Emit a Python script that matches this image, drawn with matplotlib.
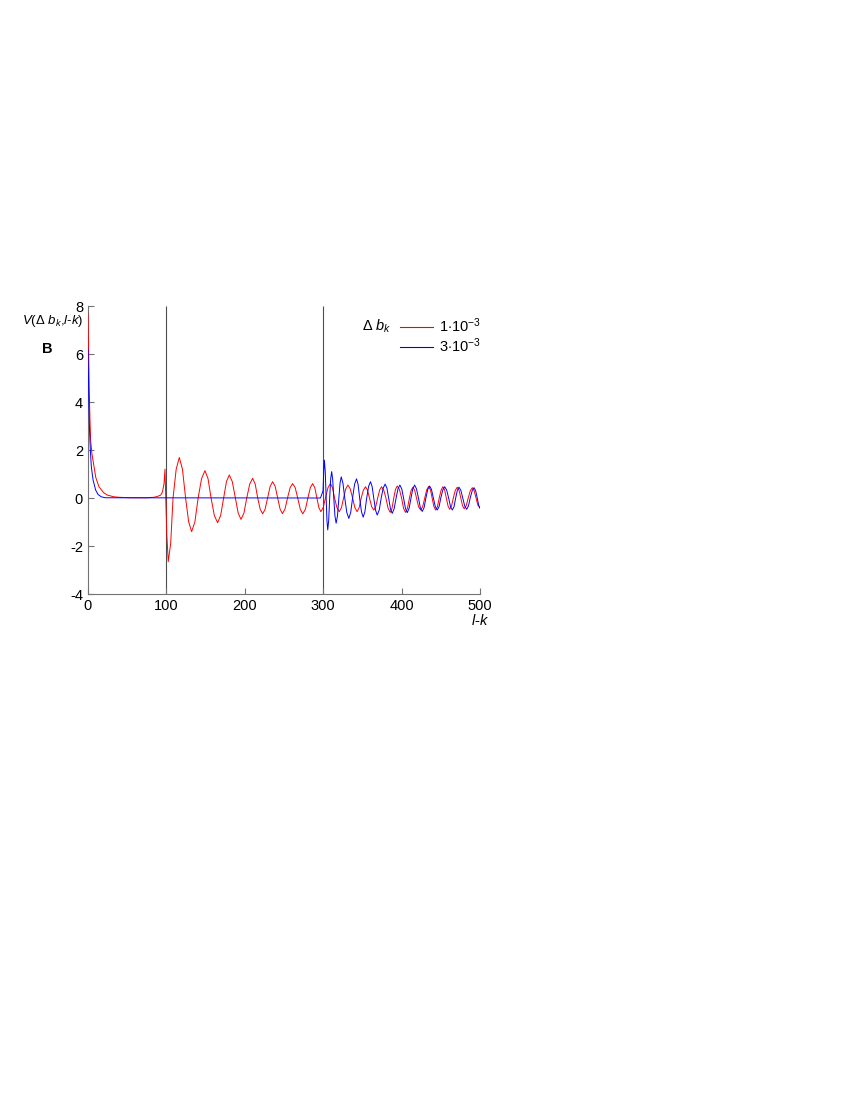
import matplotlib.pyplot as plt

# ------------------------------------------------------------
# Dati: V(Delta b_k, l-k) per due valori di Delta b_k
# (punti: massimi, minimi, zeri e "spalle" delle oscillazioni)
# ------------------------------------------------------------

# Delta b_k = 1e-3 (rosso)
red_x = [0, 0.8, 1.6, 2.5, 3.4, 5, 7.7, 10, 14, 20, 25, 33, 40, 54, 75, 84, 88, 92.7, 95, 97, 98.2,
         100.5, 102.4, 105.5,
         108.5, 112.5, 116.5, 120.5, 124.5, 128.4, 132.2, 136.4, 140.5, 144.9, 149.2, 153.1,
         157, 161.2, 165.3, 169.2, 173, 176.6, 180.2, 184.1, 188, 191.6, 195.2, 198.9,
         202.5, 206.3, 210, 213.3, 216.5, 219.7, 222.8, 225.9, 229, 232.3, 235.5, 238.8,
         242, 245, 248, 251.3, 254.5, 257.8, 261, 264.3, 267.5, 270.8, 274, 277.3,
         280.5, 283.6, 286.6, 289.3, 292, 294.5, 297, 300, 303, 306.1, 309.2, 311.9,
         314.5, 317.5, 320.5, 323.3, 326, 328.8, 331.5, 334.5, 337.5, 340.4, 343.3, 345.9,
         348.5, 351.3, 354, 356.5, 359, 361.8, 364.6, 367, 369.5, 372, 374.4, 377.2,
         380, 382.8, 385.5, 387.8, 390, 392.2, 394.4, 397.2, 400, 402.5, 405, 407.5,
         410, 412.2, 414.4, 416.7, 419, 421.6, 424.2, 426.9, 429.5, 432, 434.5, 436.8,
         439, 441.2, 443.4, 445.7, 448, 450.4, 452.7, 454.9, 457, 459.2, 461.3, 463.7,
         466, 468.5, 471, 473.3, 475.5, 477.7, 479.8, 482.4, 485, 487.6, 490.2, 492.6,
         495, 497.3, 500]
red_y = [7.7, 6.0, 4.5, 3.3, 2.4, 1.85, 1.3, 0.85, 0.47, 0.22, 0.12, 0.05, 0.03, 0.01, 0.01, 0.03, 0.06, 0.12, 0.25, 0.6, 1.2,
         -1.5, -2.65, -1.88,
         0, 1.2, 1.69, 1.2, 0, -0.99, -1.40, -0.99, 0, 0.81, 1.14, 0.81,
         0, -0.73, -1.03, -0.73, 0, 0.68, 0.96, 0.68, 0, -0.63, -0.89, -0.63,
         0, 0.58, 0.82, 0.58, 0, -0.47, -0.66, -0.47, 0, 0.48, 0.68, 0.48,
         0, -0.46, -0.65, -0.46, 0, 0.43, 0.60, 0.43, 0, -0.47, -0.66, -0.47,
         0, 0.43, 0.60, 0.43, 0, -0.40, -0.57, -0.40, 0, 0.43, 0.60, 0.43,
         0, -0.40, -0.57, -0.40, 0, 0.38, 0.54, 0.38, 0, -0.40, -0.57, -0.40,
         0, 0.33, 0.47, 0.33, 0, -0.36, -0.50, -0.36, 0, 0.33, 0.47, 0.33,
         0, -0.43, -0.60, -0.43, 0, 0.36, 0.50, 0.36, 0, -0.43, -0.60, -0.43,
         0, 0.32, 0.45, 0.32, 0, -0.36, -0.50, -0.36, 0, 0.34, 0.48, 0.34,
         0, -0.36, -0.50, -0.36, 0, 0.33, 0.47, 0.33, 0, -0.33, -0.47, -0.33,
         0, 0.32, 0.45, 0.32, 0, -0.32, -0.45, -0.32, 0, 0.30, 0.43, 0.30,
         0, -0.30, -0.40]

# Delta b_k = 3e-3 (blu)
blue_x = [0, 1.0, 1.8, 3.0, 4.3, 6.5, 9.8, 13, 17, 22, 296.5, 299.8,
          300.7, 301.5, 302.6, 303.8, 304.8, 305.8, 307.0, 308.3, 309.5, 310.8, 312.1,
          313.5, 315, 316.5, 318.2, 320, 321.5, 323, 325.2, 327.5, 330.1, 332.7, 335.1,
          337.5, 340, 342.5, 344.5, 346.5, 348.8, 351, 353.2, 355.5, 357.9, 360.3, 362.4,
          364.5, 366.7, 368.9, 371.5, 374, 376.5, 379, 381.3, 383.5, 385.8, 388, 390.5,
          393, 395.4, 397.8, 400.2, 402.5, 404.9, 407.2, 409.6, 412, 414.3, 416.6, 419,
          421.5, 423.9, 426.3, 428.7, 431, 433.4, 435.7, 438.1, 440.5, 443, 445.5, 447.8,
          450, 452.5, 454.9, 457.5, 460, 462.4, 464.7, 466.9, 469, 471.1, 473.2, 475.6,
          478, 480.5, 483, 485.3, 487.5, 490, 492.4, 494.5, 496.5, 498.3, 500]
blue_y = [6.2, 4.3, 3.0, 2.0, 1.3, 0.75, 0.33, 0.14, 0.05, 0.01, 0.0, 0.3,
          1.12, 1.58, 1.12, 0, -0.94, -1.33, -0.94, 0, 0.78, 1.10, 0.78,
          0, -0.75, -1.05, -0.75, 0, 0.62, 0.88, 0.62, 0, -0.60, -0.85, -0.60,
          0, 0.57, 0.80, 0.57, 0, -0.57, -0.80, -0.57, 0, 0.48, 0.68, 0.48,
          0, -0.50, -0.71, -0.50, 0, 0.41, 0.58, 0.41, 0, -0.45, -0.64, -0.45,
          0, 0.38, 0.54, 0.38, 0, -0.43, -0.61, -0.43, 0, 0.38, 0.54, 0.38,
          0, -0.40, -0.56, -0.40, 0, 0.36, 0.50, 0.36, 0, -0.36, -0.50, -0.36,
          0, 0.33, 0.47, 0.33, 0, -0.36, -0.50, -0.36, 0, 0.32, 0.45, 0.32,
          0, -0.33, -0.47, -0.33, 0, 0.30, 0.43, 0.30, 0, -0.30, -0.43]

# linee verticali (istanti 100 e 300)
vlines_x = [100, 300]

x_ticks = [0, 100, 200, 300, 400, 500]
y_ticks = [-4, -2, 0, 2, 4, 6, 8]
series_labels = [r"1$\cdot$10$^{-3}$", r"3$\cdot$10$^{-3}$"]

# ------------------------------------------------------------
# Plot
# ------------------------------------------------------------
plt.rcParams['font.family'] = ['Liberation Sans', 'DejaVu Sans']
plt.rcParams['mathtext.fontset'] = 'custom'
plt.rcParams['mathtext.rm'] = 'Liberation Sans'
plt.rcParams['mathtext.it'] = 'Liberation Sans:italic'

fig = plt.figure(figsize=(8.5, 11), dpi=100)
ax = fig.add_axes([0.1035, 0.46, 0.4612, 0.2618])

ax.vlines(vlines_x, -4, 8, colors='0.3', linewidth=0.8, zorder=1)

red_line, = ax.plot(red_x, red_y, color='red', linewidth=0.7, zorder=3)
blue_line, = ax.plot(blue_x, blue_y, color='blue', linewidth=0.7, zorder=4)

ax.set_xlim(0, 500)
ax.set_ylim(-4, 8)
ax.set_xticks(x_ticks)
ax.set_yticks(y_ticks)
ax.set_yticklabels([str(v) for v in y_ticks])

# assi stile MATLAB: solo sinistra/basso, tick verso l'interno
for s in ['top', 'right']:
    ax.spines[s].set_visible(False)
for s in ['left', 'bottom']:
    ax.spines[s].set_color('0.45')
    ax.spines[s].set_linewidth(0.8)
ax.tick_params(direction='in', length=4, width=0.8, color='0.45', labelsize=10.5)

# etichette assi
fig.text(0.098, 0.708, r"$V$($\Delta$ $b_k$,$l$-$k$)", ha='right', va='center', fontsize=9.5)
fig.text(0.565, 0.436, r"$l$-$k$", ha='center', va='center', fontsize=10.5)
fig.text(0.056, 0.683, "B", ha='center', va='center', fontsize=10.5, fontweight='bold')

# legenda senza cornice, titolo a sinistra
leg = ax.legend(handles=[red_line, blue_line], labels=series_labels,
                loc='upper left', bbox_to_anchor=(0.762, 1.01), frameon=False,
                fontsize=10.5, handlelength=2.25, handletextpad=0.45, labelspacing=0.1)
for h in leg.get_lines():
    h.set_linewidth(0.8)
fig.text(0.426, 0.7036, r"$\Delta$ $b_k$", ha='left', va='center', fontsize=10.5)

fig.savefig("out.png", dpi=100)
